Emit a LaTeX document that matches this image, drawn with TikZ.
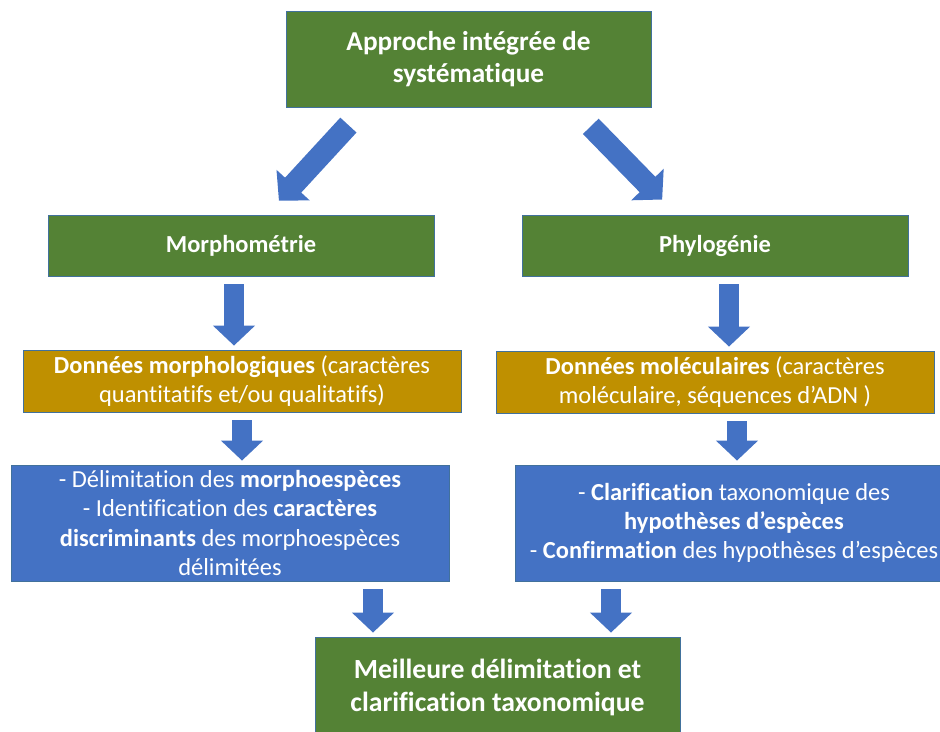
\documentclass[tikz,border=0pt]{standalone}
\usepackage{fontspec}
\setmainfont{Carlito}[Ligatures=CommonOff]
\usetikzlibrary{arrows.meta}
\definecolor{boxgreen}{HTML}{548235}
\definecolor{boxgold}{HTML}{BF9000}
\definecolor{boxblue}{HTML}{4472C4}
\definecolor{boxline}{HTML}{41719C}
\tikzset{
  x=0.025cm, y=-0.025cm,
  box/.style={draw=boxline, line width=0.6pt, text=white, align=center, inner sep=0pt},
  greenbox/.style={box, fill=boxgreen},
  goldbox/.style={box, fill=boxgold},
  bluebox/.style={box, fill=boxblue},
  bigarrow/.style={draw=boxblue, line width=0.5cm,
    -{Triangle[width=1.025cm, length=0.5cm]},
    shorten <=0.2cm, shorten >=0.1cm},
  diagarrow/.style={bigarrow, line width=0.55cm,
    -{Triangle[width=1.1cm, length=0.525cm]}},
}
\newcommand{\bodytext}{\fontsize{17.4}{20.8}\selectfont}
\newcommand{\headtext}{\fontsize{19.4}{22.6}\selectfont\bfseries}

\begin{document}
\begin{tikzpicture}
\useasboundingbox (0,0) rectangle (940,731);
\clip (0,0) rectangle (940,731);

% Top and bottom boxes
\node[greenbox, minimum width=365*0.025cm, minimum height=96*0.025cm, font=\headtext]
  (top) at (468.5,59) {Approche intégrée de\\ systématique};
\node[greenbox, minimum width=365*0.025cm, minimum height=100*0.025cm,
  font=\fontsize{19.7}{23.5}\selectfont\bfseries]
  (final) at (497.5,687) {Meilleure délimitation et\\ clarification taxonomique};

% Two branches
\node[greenbox, minimum width=386*0.025cm, minimum height=61*0.025cm, font=\bodytext\bfseries]
  (morph) at (241,245.5) {Morphométrie};
\node[greenbox, minimum width=386*0.025cm, minimum height=61*0.025cm, font=\bodytext\bfseries]
  (phylo) at (715,245.5) {Phylogénie};

% Data
\node[goldbox, minimum width=438*0.025cm, minimum height=62*0.025cm, font=\bodytext]
  (dmorph) at (242,381)
  {\textbf{Données morphologiques} (caractères\\ quantitatifs et/ou qualitatifs)};
\node[goldbox, minimum width=438*0.025cm, minimum height=62*0.025cm, font=\bodytext]
  (dmol) at (715,382)
  {\textbf{Données moléculaires} (caractères\\ moléculaire, séquences d’ADN )};

% Results
\node[bluebox, minimum width=438*0.025cm, minimum height=116*0.025cm, font=\bodytext]
  (bleft) at (230,523)
  {- Délimitation des \textbf{morphoespèces}\\
   - Identification des \textbf{caractères}\\
   \textbf{discriminants} des morphoespèces\\
   délimitées};
\node[bluebox, minimum width=438*0.025cm, minimum height=116*0.025cm, font=\bodytext]
  (bright) at (734,523)
  {- \textbf{Clarification} taxonomique des\\
   \textbf{hypothèses d’espèces}\\
   - \textbf{Confirmation} des hypothèses d’espèces};

% Arrows
\draw[diagarrow, shorten <=0.6cm, shorten >=0.475cm] (top.-155.7) -- (morph.51.2);
\draw[diagarrow, shorten <=0.66cm, shorten >=0.525cm] (top.-25) -- (phylo.141.5);
\foreach \a/\b/\x in {morph/dmorph/234, phylo/dmol/729, dmorph/bleft/242,
                      dmol/bright/737, bleft/final/373, bright/final/611}
  \draw[bigarrow] (\x,0 |- \a.south) -- (\x,0 |- \b.north);

\end{tikzpicture}
\end{document}
